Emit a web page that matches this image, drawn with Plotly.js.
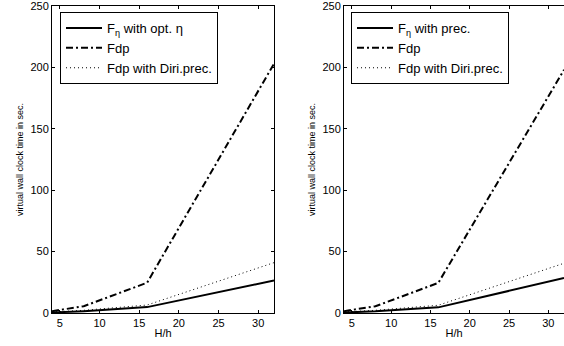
<!DOCTYPE html>
<html>
<head>
<meta charset="utf-8">
<script src="https://cdn.plot.ly/plotly-3.0.1.min.js"></script>
<style>html,body{margin:0;padding:0;background:#fff;}#chart{width:564px;height:346px;}</style>
</head>
<body>
<div id="chart"></div>
<script>
// H/h values
const hh = [4, 8, 16, 32];
// Left panel
const leftFeta = [0.4, 1.5, 4.8, 26.5];
const leftFdp  = [1.5, 5.5, 24.7, 203];
const leftDiri = [0.8, 2.2, 6.5, 41];
// Right panel
const rightFeta = [0.4, 1.4, 4.6, 28.5];
const rightFdp  = [1.5, 5.5, 24.5, 198];
const rightDiri = [0.8, 2.2, 6.3, 40.5];
// Legend labels
const leftNames  = ['F<sub>η</sub> with opt. η', 'Fdp', 'Fdp with Diri.prec.'];
const rightNames = ['F<sub>η</sub> with prec.', 'Fdp', 'Fdp with Diri.prec.'];
const xTicks = [5, 10, 15, 20, 25, 30];
const yTicks = [0, 50, 100, 150, 200, 250];

const solid = {color: '#000', width: 2, dash: 'solid'};
const dashdot = {color: '#000', width: 2, dash: '7px,3px,2px,3px'};
const dotted = {color: '#000', width: 1, dash: '1px,3px'};

function traces(ys, names, xa, ya, leg) {
  const styles = [solid, dashdot, dotted];
  return ys.map((y, i) => ({
    x: hh, y: y, name: names[i], type: 'scatter', mode: 'lines',
    line: styles[i], xaxis: xa, yaxis: ya, legend: leg, cliponaxis: true
  }));
}

const data = [
  ...traces([leftFeta, leftFdp, leftDiri], leftNames, 'x', 'y', 'legend'),
  ...traces([rightFeta, rightFdp, rightDiri], rightNames, 'x2', 'y2', 'legend2')
];

const font = {family: 'Liberation Sans, Arial, sans-serif', color: '#000'};
const yTop = 1 - 6/346, yBot = 1 - 313/346;

function xax(domain, mirror) {
  return {
    domain: domain, range: [4, 32], tickvals: xTicks, ticks: 'inside', ticklen: 3,
    tickcolor: '#000', linecolor: '#000', linewidth: 1, showline: true, mirror: mirror,
    showgrid: false, zeroline: false, tickfont: {size: 11}, ticklabeloverflow: 'allow',
    title: {text: 'H/h', font: {size: 11}, standoff: 1}
  };
}
function yax(anchor, mirror) {
  return {
    domain: [yBot, yTop], range: [0, 250], tickvals: yTicks, ticks: 'inside', ticklen: 3,
    tickcolor: '#000', linecolor: '#000', linewidth: 1, showline: true, mirror: mirror,
    showgrid: false, zeroline: false, tickfont: {size: 11}, anchor: anchor,
    ticklabeloverflow: 'allow',
    title: {text: 'virtual wall clock time in sec.', font: {size: 9}, standoff: 5}
  };
}

const legendBase = {
  bgcolor: '#fff', bordercolor: '#000', borderwidth: 1, font: {size: 13},
  xanchor: 'left', yanchor: 'top', tracegroupgap: 0, itemwidth: 36
};

const layout = {
  width: 564, height: 346,
  margin: {l: 0, r: 0, t: 0, b: 0},
  paper_bgcolor: '#fff', plot_bgcolor: '#fff',
  font: font,
  showlegend: true,
  xaxis: Object.assign(xax([52/564, 274/564], 'ticks'), {anchor: 'y'}),
  yaxis: yax('x', 'ticks'),
  xaxis2: Object.assign(xax([344/564, 1], 'ticks'), {anchor: 'y2'}),
  yaxis2: yax('x2', false),
  legend: Object.assign({}, legendBase, {x: 60/564, y: 1 - 12/346}),
  legend2: Object.assign({}, legendBase, {x: 351/564, y: 1 - 12/346})
};

Plotly.newPlot('chart', data, layout, {displayModeBar: false, staticPlot: true});
</script>
</body>
</html>
